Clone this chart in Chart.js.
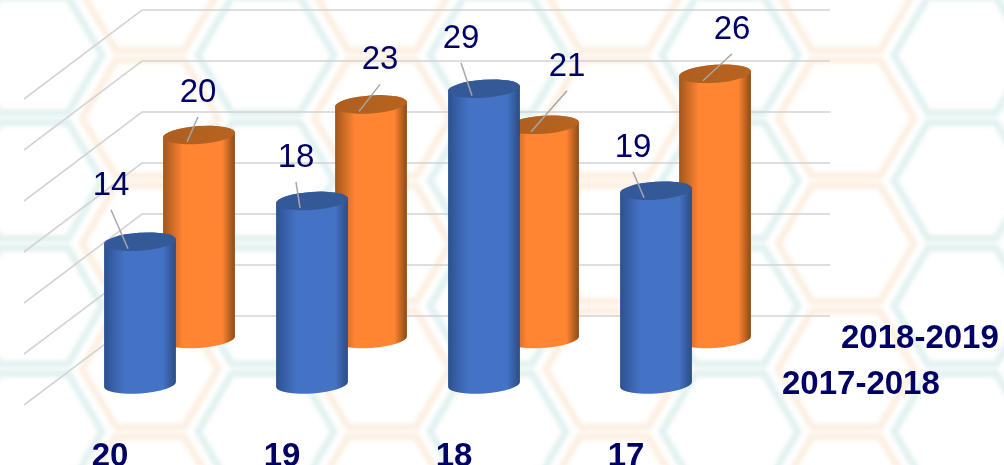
<!DOCTYPE html>
<html>
<head>
<meta charset="utf-8">
<script src="https://cdn.jsdelivr.net/npm/chart.js@4"></script>
<style>
  html, body { margin: 0; padding: 0; background: #fff; overflow: hidden; }
  canvas { display: block; }
</style>
</head>
<body>
<canvas id="chart" width="1004" height="465"></canvas>
<script>
// Data
const categories = ['20', '19', '18', '17'];
const values1718 = [14, 18, 29, 19];
const values1819 = [20, 23, 21, 26];
const seriesNames = ['2017-2018', '2018-2019'];
const yTicksMax = 30;
const yTicksStep = 5;

// Depth of the floor and where each series sits on it
const depth = { x: 118, y: -89 };
const placement = [{ x: 30, y: -20.5 }, { x: 89, y: -66 }];

// Where each value label sits, relative to the top of its cylinder
const labelNudge = [
  [[-29, -56], [-16, -43], [-23, -50], [-23, -43]],
  [[-1, -42], [9, -44], [24, -58], [17, -44]]
];

const textColor = '#000066';
const labelFont = '33px "Liberation Sans", sans-serif';
const boldFont = 'bold 33px "Liberation Sans", sans-serif';

const skins = [
  { edgeL: '#2c5191', mid: '#4472c4', edgeR: '#2b4c83', capL: '#34589a', capR: '#345a95' },
  { edgeL: '#a2561b', mid: '#ff8533', edgeR: '#8c4a16', capL: '#ad5e20', capR: '#b8641f' }
];

// Faint hexagon wallpaper
function drawHexagons(ctx) {
  const stepX = 116, stepY = 125.5, rx = 68, ry = 58;
  ctx.save();
  ctx.filter = 'blur(2px)';
  ctx.lineWidth = 7;
  for (let col = 0; col < 10; col++) {
    const cx = 34 + col * stepX;
    const isOrange = col % 2 === 1;
    ctx.strokeStyle = isOrange ? 'rgba(250,225,200,0.55)' : 'rgba(205,232,230,0.6)';
    for (let row = -1; row < 5; row++) {
      const cy = (isOrange ? 118 : 55) + row * stepY;
      ctx.beginPath();
      ctx.moveTo(cx - rx, cy);
      ctx.lineTo(cx - rx / 2, cy - ry);
      ctx.lineTo(cx + rx / 2, cy - ry);
      ctx.lineTo(cx + rx, cy);
      ctx.lineTo(cx + rx / 2, cy + ry);
      ctx.lineTo(cx - rx / 2, cy + ry);
      ctx.closePath();
      ctx.stroke();
    }
  }
  ctx.restore();
}

// Side wall and back wall lines, one per tick of the y scale
function drawWalls(chart) {
  const { ctx, chartArea, scales } = chart;
  ctx.save();
  ctx.strokeStyle = '#d4d4d4';
  ctx.lineWidth = 1.6;
  scales.y.ticks.forEach(t => {
    const y = scales.y.getPixelForValue(t.value);
    ctx.beginPath();
    ctx.moveTo(chartArea.left, y);
    ctx.lineTo(chartArea.left + depth.x, y + depth.y);
    ctx.lineTo(chartArea.right + depth.x, y + depth.y);
    ctx.stroke();
  });
  ctx.restore();
}

function drawCylinder(ctx, cx, topY, baseY, rx, skin) {
  const ry = 9, tilt = -4 * Math.PI / 180;
  const body = ctx.createLinearGradient(cx - rx, 0, cx + rx, 0);
  body.addColorStop(0, skin.edgeL);
  body.addColorStop(0.28, skin.mid);
  body.addColorStop(0.5, skin.mid);
  body.addColorStop(0.82, skin.mid);
  body.addColorStop(1, skin.edgeR);
  ctx.fillStyle = body;
  ctx.beginPath();
  ctx.ellipse(cx, topY, rx, ry, tilt, Math.PI, 0, false);
  ctx.ellipse(cx, baseY, rx, ry, tilt, 0, Math.PI, false);
  ctx.closePath();
  ctx.fill();

  const cap = ctx.createLinearGradient(cx - rx, 0, cx + rx, 0);
  cap.addColorStop(0, skin.capL);
  cap.addColorStop(1, skin.capR);
  ctx.fillStyle = cap;
  ctx.beginPath();
  ctx.ellipse(cx, topY, rx, ry, tilt, 0, Math.PI * 2);
  ctx.fill();
}

const cylinderPlugin = {
  id: 'cylinders',
  beforeDraw(chart) {
    drawHexagons(chart.ctx);
    drawWalls(chart);
  },
  beforeDatasetDraw(chart, args) {
    const meta = args.meta;
    const place = placement[args.index];
    meta.data.forEach(bar => {
      drawCylinder(chart.ctx, bar.x + place.x, bar.y + place.y, bar.base + place.y,
        bar.width / 2, skins[args.index]);
    });
    return false;
  },
  afterDatasetsDraw(chart) {
    const { ctx, chartArea, scales } = chart;
    ctx.save();
    ctx.textAlign = 'center';
    ctx.textBaseline = 'middle';
    chart.data.datasets.forEach((ds, i) => {
      const place = placement[i];
      chart.getDatasetMeta(i).data.forEach((bar, j) => {
        const topX = bar.x + place.x;
        const topY = bar.y + place.y;
        const lx = topX + labelNudge[i][j][0];
        const ly = topY + labelNudge[i][j][1];
        // leader line
        ctx.strokeStyle = '#a6a6a6';
        ctx.lineWidth = 1.5;
        ctx.beginPath();
        ctx.moveTo(lx, ly + 24);
        ctx.lineTo(topX - 12, topY + 7);
        ctx.stroke();
        // value
        ctx.fillStyle = textColor;
        ctx.font = labelFont;
        ctx.fillText(ds.data[j], lx, ly);
      });
      // series name on the depth axis
      ctx.font = boldFont;
      ctx.textAlign = 'left';
      ctx.fillStyle = textColor;
      ctx.fillText(ds.label, chartArea.right + place.x + 40, scales.y.getPixelForValue(0) + place.y);
      ctx.textAlign = 'center';
    });
    ctx.restore();
  }
};

new Chart(document.getElementById('chart').getContext('2d'), {
  type: 'bar',
  data: {
    labels: categories,
    datasets: [
      { label: seriesNames[0], data: values1718, backgroundColor: '#4472c4', grouped: false, barThickness: 72 },
      { label: seriesNames[1], data: values1819, backgroundColor: '#ed7d31', grouped: false, barThickness: 72 }
    ]
  },
  plugins: [cylinderPlugin],
  options: {
    responsive: false,
    animation: false,
    layout: { padding: { left: 24, right: 292, top: 99, bottom: 0 } },
    plugins: {
      legend: { display: false },
      title: { display: false },
      tooltip: { enabled: false }
    },
    scales: {
      x: {
        grid: { display: false },
        border: { display: false },
        ticks: { color: textColor, font: { family: 'Liberation Sans', size: 33, weight: 'bold' }, padding: 24, maxRotation: 0 },
        afterFit(scale) { scale.height = 60; }
      },
      y: {
        display: false,
        min: 0,
        max: yTicksMax,
        ticks: { stepSize: yTicksStep }
      }
    }
  }
});
</script>
</body>
</html>
